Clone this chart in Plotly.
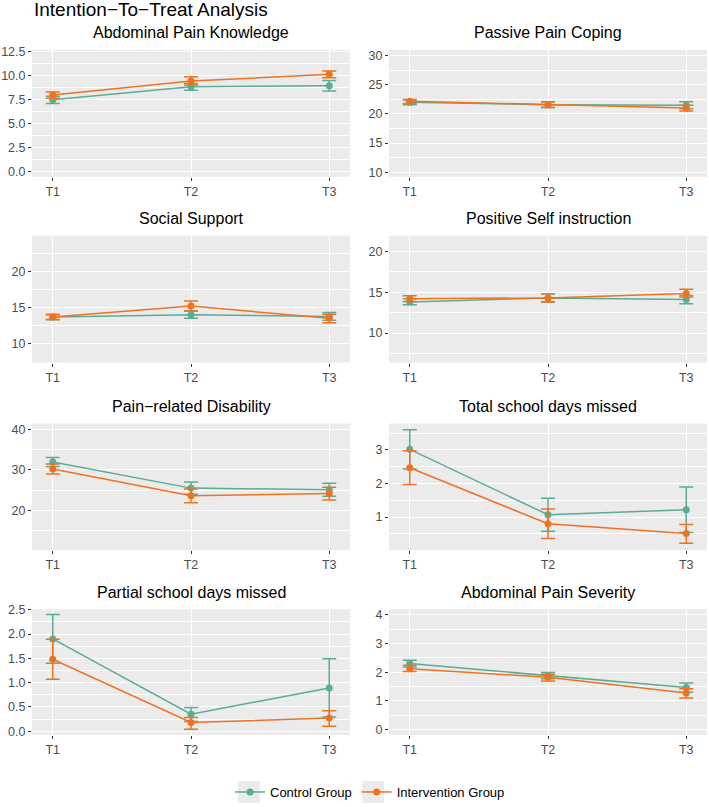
import plotly.graph_objects as go

# ---------------- data ----------------
panel_titles = [
    "Abdominal Pain Knowledge", "Passive Pain Coping",
    "Social Support", "Positive Self instruction",
    "Pain\u2212related Disability", "Total school days missed",
    "Partial school days missed", "Abdominal Pain Severity",
]
time_points = [1, 2, 3]
time_labels = ["T1", "T2", "T3"]
group_names = ["Control Group", "Intervention Group"]

control_mean = [
    [7.5, 8.85, 8.95], [22.0, 21.6, 21.5], [13.7, 14.0, 13.75], [13.8, 14.3, 14.1],
    [31.9, 25.5, 25.1], [3.02, 1.07, 1.22], [1.9, 0.35, 0.89], [2.3, 1.88, 1.46],
]
control_lo = [
    [7.1, 8.5, 8.4], [21.6, 21.1, 20.9], [13.3, 13.5, 13.25], [13.45, 13.8, 13.6],
    [30.8, 24.0, 23.5], [2.43, 0.58, 0.54], [1.4, 0.2, 0.29], [2.18, 1.77, 1.3],
]
control_hi = [
    [7.85, 9.2, 9.5], [22.4, 22.1, 22.1], [14.05, 14.5, 14.3], [14.2, 14.8, 14.6],
    [33.0, 27.0, 26.7], [3.6, 1.56, 1.9], [2.4, 0.49, 1.49], [2.42, 1.99, 1.62],
]
interv_mean = [
    [8.0, 9.45, 10.15], [22.2, 21.6, 21.0], [13.7, 15.2, 13.5], [14.2, 14.3, 14.85],
    [30.2, 23.6, 24.2], [2.47, 0.8, 0.51], [1.48, 0.18, 0.27], [2.12, 1.82, 1.27],
]
interv_lo = [
    [7.65, 9.05, 9.8], [21.8, 21.1, 20.5], [13.35, 14.5, 12.9], [13.85, 13.8, 14.4],
    [29.0, 21.9, 22.6], [1.97, 0.36, 0.22], [1.07, 0.04, 0.1], [2.02, 1.69, 1.1],
]
interv_hi = [
    [8.3, 9.9, 10.5], [22.5, 22.1, 21.5], [14.0, 15.9, 14.05], [14.55, 14.8, 15.35],
    [31.4, 25.3, 25.7], [2.98, 1.24, 0.78], [1.89, 0.28, 0.42], [2.24, 1.93, 1.42],
]

y_ticks = [
    [0, 2.5, 5, 7.5, 10, 12.5], [10, 15, 20, 25, 30], [10, 15, 20], [10, 15, 20],
    [20, 30, 40], [1, 2, 3], [0, 0.5, 1, 1.5, 2, 2.5], [0, 1, 2, 3, 4],
]
y_ranges = [
    [-0.55, 12.7], [9.2, 31.0], [7.4, 24.9], [6.4, 21.9],
    [10.2, 41.4], [0.01, 3.79], [-0.08, 2.51], [-0.2, 4.2],
]
y_formats = [".1f", "", "", "", "", "", ".1f", ""]

# ---------------- layout geometry (pixels) ----------------
W, H = 709, 807
col_px = [(32, 350), (389, 707)]
row_px = [(50, 177), (236, 363), (424, 551), (610, 736)]
title_y_px = [33, 219, 407, 593]
legend_key_px = [249, 373]
colors = ["#5aac97", "#f0721f"]

fig = go.Figure()
annotations = []
for i in range(8):
    r, c = divmod(i, 2)
    ax = "" if i == 0 else str(i + 1)
    xa, ya = "x" + ax, "y" + ax
    for g, (m, lo, hi) in enumerate([
        (control_mean[i], control_lo[i], control_hi[i]),
        (interv_mean[i], interv_lo[i], interv_hi[i]),
    ]):
        fig.add_trace(go.Scatter(
            x=time_points, y=m, mode="lines+markers",
            name=group_names[g], legendgroup=group_names[g], showlegend=(i == 0),
            line=dict(color=colors[g], width=1.5),
            marker=dict(color=colors[g], size=7),
            error_y=dict(type="data", symmetric=False,
                         array=[h - v for h, v in zip(hi, m)],
                         arrayminus=[v - l for v, l in zip(m, lo)],
                         color=colors[g], thickness=1.5, width=7),
            xaxis=xa, yaxis=ya,
        ))
    x0, x1 = col_px[c]
    y0, y1 = row_px[r]
    yt = y_ticks[i]
    step = yt[1] - yt[0]
    minor = [yt[0] - step / 2] + [v + step / 2 for v in yt]
    fig.layout["xaxis" + ax] = dict(
        domain=[x0 / W, x1 / W], anchor=ya, range=[0.85, 3.15],
        tickvals=time_points, ticktext=time_labels,
        showgrid=True, gridcolor="white", gridwidth=1.1, zeroline=False,
        ticks="outside", ticklen=3, tickcolor="#333333", tickwidth=1,
        tickfont=dict(size=12.5, color="#4d4d4d"), showline=False,
    )
    fig.layout["yaxis" + ax] = dict(
        domain=[1 - y1 / H, 1 - y0 / H], anchor=xa, range=y_ranges[i],
        tickvals=yt, tickformat=y_formats[i],
        showgrid=True, gridcolor="white", gridwidth=1.1, zeroline=False,
        ticks="outside", ticklen=3, tickcolor="#333333", tickwidth=1,
        tickfont=dict(size=12.5, color="#4d4d4d"), showline=False,
        minor=dict(tickvals=minor, showgrid=True, gridcolor="white", gridwidth=0.55, ticks=""),
    )
    annotations.append(dict(
        text=panel_titles[i], xref="paper", yref="paper",
        x=(x0 + x1) / 2 / W, y=1 - title_y_px[r] / H,
        xanchor="center", yanchor="middle", showarrow=False,
        font=dict(size=16, color="black"),
    ))

annotations.append(dict(
    text="Intention\u2212To\u2212Treat Analysis", xref="paper", yref="paper",
    x=32 / W, y=1 - 10 / H, xanchor="left", yanchor="middle", showarrow=False,
    font=dict(size=19, color="black"),
))

# grey legend-key backgrounds (ggplot style)
shapes = [
    dict(type="rect", xref="paper", yref="paper", layer="above",
         x0=(kx - 11) / W, x1=(kx + 11) / W, y0=1 - 804 / H, y1=1 - 782 / H,
         fillcolor="#ebebeb", line=dict(width=0))
    for kx in legend_key_px
]

fig.update_layout(
    width=W, height=H, margin=dict(l=0, r=0, t=0, b=0),
    paper_bgcolor="white", plot_bgcolor="#ebebeb",
    font=dict(family="Liberation Sans, Arial, sans-serif"),
    annotations=annotations, shapes=shapes,
    legend=dict(orientation="h", x=370 / W, xanchor="center",
                y=1 - 793 / H, yanchor="middle",
                font=dict(size=13, color="black"), bgcolor="rgba(0,0,0,0)",
                itemwidth=30),
)
for ax_name in [k for k in fig.layout if k.startswith("xaxis") or k.startswith("yaxis")]:
    fig.layout[ax_name].automargin = False

fig.write_html("out.html")
